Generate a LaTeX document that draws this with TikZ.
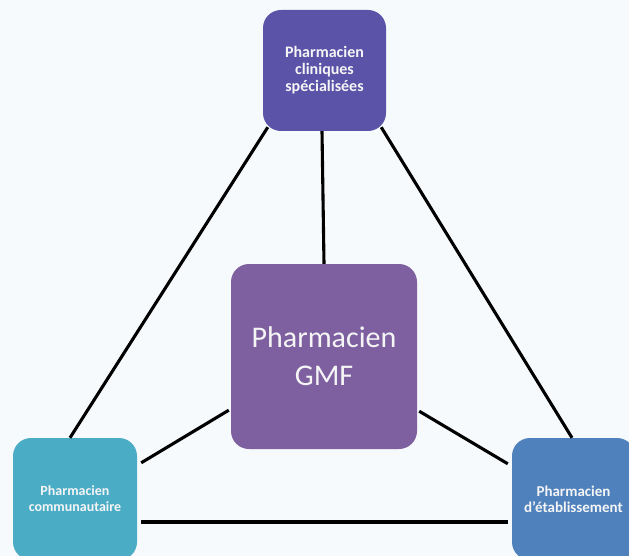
\documentclass[tikz,border=0pt]{standalone}
\usepackage{fontspec}
\setmainfont{Carlito}
\definecolor{bgc}{HTML}{F6FAFD}
\definecolor{topc}{HTML}{5A53A8}
\definecolor{ctrc}{HTML}{7E60A0}
\definecolor{blc}{HTML}{4BACC6}
\definecolor{brc}{HTML}{4F81BD}
\tikzset{
  boxnode/.style={rounded corners=18pt, inner sep=0pt, align=center, text=white!96!black},
  conn/.style={line width=3.1pt, black}
}
\begin{document}
\begin{tikzpicture}[x=1pt,y=-1pt]
\useasboundingbox (0,0) rectangle (629,556);
\clip (0,0) rectangle (629,556);
\fill[bgc] (0,0) rectangle (629,556);
\node[boxnode, fill=topc, minimum width=123pt, minimum height=121pt,
  font=\fontsize{16}{17}\selectfont\bfseries] (top) at (324.5,70.5) {Pharmacien\\cliniques\\spécialisées};
\node[boxnode, fill=ctrc, minimum width=186pt, minimum height=185pt,
  font=\fontsize{30}{38}\selectfont] (ctr) at (324,356.5) {Pharmacien\\GMF};
\node[boxnode, fill=blc, minimum width=124pt, minimum height=122pt,
  font=\fontsize{14}{16}\selectfont\bfseries] (bl) at (75,499) {Pharmacien\\communautaire};
\node[boxnode, fill=brc, minimum width=123pt, minimum height=122pt,
  font=\fontsize{15}{16}\selectfont\bfseries] (br) at (573.5,499) {Pharmacien\\d’établissement};
\draw[conn] ([shift={(5,-4)}]top.south west) -- ([xshift=-5pt]bl.north);
\draw[conn] ([xshift=-2.5pt]top.south) -- (ctr.north);
\draw[conn] ([shift={(-5,-4)}]top.south east) -- ([xshift=-1.5pt]br.north);
\draw[conn] ([shift={(-2,-39)}]ctr.south west) -- ([shift={(4,25)}]bl.north east);
\draw[conn] ([shift={(2,-38)}]ctr.south east) -- ([shift={(-4,26)}]br.north west);
\draw[conn] ([shift={(4,23)}]bl.east) -- ([shift={(-4,23)}]br.west);
\end{tikzpicture}
\end{document}
